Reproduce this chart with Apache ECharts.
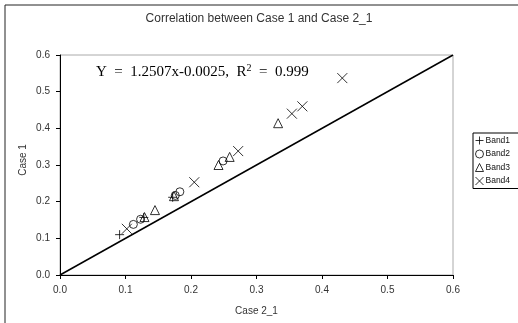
<!DOCTYPE html>
<html><head><meta charset="utf-8">
<script src="https://cdn.jsdelivr.net/npm/echarts@6/dist/echarts.min.js"></script>
<style>html,body{margin:0;padding:0;background:#fff}#c{width:518px;height:323px}</style>
</head><body><div id="c"></div>
<script>
const titleText = 'Correlation between Case 1 and Case 2_1';
const xName = 'Case 2_1';
const yName = 'Case 1';
const seriesNames = ['Band1', 'Band2', 'Band3', 'Band4'];
const band1 = [[0.091, 0.110], [0.128, 0.157], [0.172, 0.212]];
const band2 = [[0.112, 0.138], [0.123, 0.152], [0.176, 0.217], [0.183, 0.227], [0.249, 0.311]];
const band3 = [[0.129, 0.158], [0.145, 0.177], [0.174, 0.215], [0.242, 0.300], [0.259, 0.322], [0.333, 0.414]];
const band4 = [[0.102, 0.126], [0.205, 0.253], [0.272, 0.338], [0.354, 0.440], [0.370, 0.460], [0.431, 0.537]];
const refLine = [[0, 0], [0.6, 0.6]];
const eqText = 'Y  =  1.2507x-0.0025,  R';

const plus = 'path://M0,5L10,5M5,0L5,10';
const cross = 'path://M0,0L10,10M0,10L10,0';
const symStyle = {color: 'rgba(0,0,0,0)', borderColor: '#000', borderWidth: 1};
const chart = echarts.init(document.getElementById('c'));
function sc(name, data, symbol, size) {
  return {name, type: 'scatter', data, symbol, symbolSize: size, itemStyle: symStyle, z: 3};
}
chart.setOption({
  animation: false,
  backgroundColor: '#fff',
  title: {text: titleText, left: 'center', top: 8,
    textStyle: {fontFamily: 'Liberation Sans', fontSize: 12, fontWeight: 'normal', color: '#333'}},
  grid: {left: 60, right: 65, top: 55, bottom: 48, show: true, borderColor: '#aaa', borderWidth: 1},
  xAxis: {type: 'value', min: 0, max: 0.6, interval: 0.1,
    name: xName, nameLocation: 'middle', nameGap: 31, nameMoveOverlap: false,
    nameTextStyle: {fontFamily: 'Liberation Sans', fontSize: 10, color: '#333'},
    axisLine: {show: true, lineStyle: {color: '#000', width: 1}},
    axisTick: {show: true, length: 4, lineStyle: {color: '#000'}},
    axisLabel: {fontFamily: 'Liberation Sans', fontSize: 10, color: '#333', margin: 10, formatter: v => v.toFixed(1)},
    splitLine: {show: false}},
  yAxis: {type: 'value', min: 0, max: 0.6, interval: 0.1,
    name: yName, nameLocation: 'middle', nameGap: 32, nameMoveOverlap: false,
    nameTextStyle: {fontFamily: 'Liberation Sans', fontSize: 10, color: '#333', padding: [0, 0, 0, 10]},
    axisLine: {show: true, lineStyle: {color: '#000', width: 1}},
    axisTick: {show: true, length: 4, lineStyle: {color: '#000'}},
    axisLabel: {fontFamily: 'Liberation Sans', fontSize: 10, color: '#333', margin: 10, formatter: v => v.toFixed(1)},
    splitLine: {show: false}},
  legend: {orient: 'vertical', left: 473, top: 133, itemWidth: 8, itemHeight: 8, itemGap: 4.5,
    padding: [3, 14, 3, 2], borderColor: '#000', borderWidth: 1, backgroundColor: '#fff',
    textStyle: {fontFamily: 'Liberation Sans', fontSize: 8.5, color: '#111', padding: [0, 0, 0, -3]},
    data: seriesNames.map(n => ({name: n})), itemStyle: symStyle},
  graphic: [
    {type: 'rect', shape: {x: 5, y: 5, width: 700, height: 500}, style: {fill: 'none', stroke: '#222', lineWidth: 1}, silent: true, z: -1},
    {type: 'text', left: 96, top: 63, z: 10, style: {
      text: eqText + '{s|2}  =  0.999',
      font: '15px "Liberation Serif"', fill: '#000',
      rich: {s: {font: '10px "Liberation Serif"', verticalAlign: 'top', padding: [0, 0, 8, 0], fill: '#000'}}}}
  ],
  series: [
    {type: 'line', data: refLine, symbol: 'none', lineStyle: {color: '#000', width: 1.5}, z: 2, silent: true},
    sc(seriesNames[0], band1, plus, 9),
    sc(seriesNames[1], band2, 'circle', 8),
    sc(seriesNames[2], band3, 'triangle', 9),
    sc(seriesNames[3], band4, cross, 10)
  ]
});
</script></body></html>
